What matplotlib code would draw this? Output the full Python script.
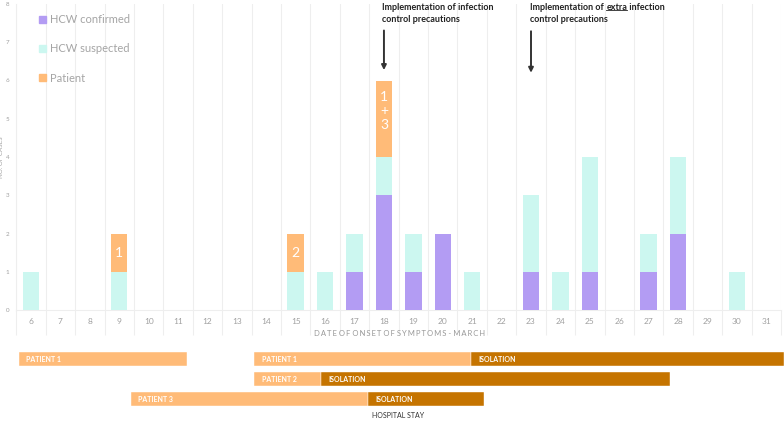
import numpy as np
import matplotlib
matplotlib.use('Agg')
import matplotlib.pyplot as plt
from matplotlib.patches import Patch

plt.rcParams['font.family'] = ['Lato', 'DejaVu Sans']

# epidemic curve data
days = list(range(6, 32))
confirmed = [0, 0, 0, 0, 0, 0, 0, 0, 0, 0, 0, 1, 3, 1, 2, 0, 0, 1, 0, 1, 0, 1, 2, 0, 0, 0]
suspected = [1, 0, 0, 1, 0, 0, 0, 0, 0, 1, 1, 1, 1, 1, 0, 1, 0, 2, 1, 3, 0, 1, 2, 0, 1, 0]
patient   = [0, 0, 0, 1, 0, 0, 0, 0, 0, 1, 0, 0, 2, 0, 0, 0, 0, 0, 0, 0, 0, 0, 0, 0, 0, 0]
patient_labels = {9: '1', 15: '2', 18: '1\n+\n3'}

# timeline of patient stays (row, start day, end day, label, kind)
stay_rows   = [0, 0, 0, 1, 1, 2, 2]
stay_start  = [5.59, 13.59, 20.97, 13.59, 15.86, 9.40, 17.46]
stay_end    = [11.31, 20.97, 31.61, 15.86, 27.73, 17.46, 21.41]
stay_labels = ['PATIENT 1', 'PATIENT 1', 'ISOLATION', 'PATIENT 2', 'ISOLATION', 'PATIENT 3', 'ISOLATION']
stay_iso    = [False, False, True, False, True, False, True]

c_conf = '#b39cf3'
c_susp = '#ccf7f0'
c_pat = '#ffbb78'
c_iso = '#c57400'
grid_c = '#eeeeee'
txt_c = '#a0a0a0'

fig = plt.figure(figsize=(7.84, 4.21), dpi=100)
W, H = 784, 421
ax = fig.add_axes([16.3 / W, 1 - 310 / H, 764.7 / W, 306 / H])

x = np.array(days)
conf = np.array(confirmed)
susp = np.array(suspected)
pat = np.array(patient)
bw = 0.56
ax.bar(x, conf, bw, color=c_conf, zorder=3)
ax.bar(x, susp, bw, bottom=conf, color=c_susp, zorder=3)
ax.bar(x, pat, bw, bottom=conf + susp, color=c_pat, zorder=3)

for d, lab in patient_labels.items():
    i = days.index(d)
    base = conf[i] + susp[i]
    ypos = base + pat[i] / 2
    if pat[i] > 1:
        ypos = base + pat[i] * 0.6
    ax.text(d, ypos, lab, ha='center', va='center', color='white',
            fontsize=10, linespacing=1.2, zorder=4)

ax.set_xlim(5.5, 31.5)
ax.set_ylim(0, 8)
ax.set_xticks(days)
ax.set_xticklabels([str(d) for d in days])
ax.set_xticks(np.arange(5.5, 32, 1), minor=True)
ax.tick_params(axis='x', which='major', length=0, labelsize=6, labelcolor=txt_c, pad=6)
ax.tick_params(axis='x', which='minor', length=18, color=grid_c, width=0.8)
ax.grid(axis='x', which='minor', color=grid_c, lw=0.8, zorder=0)
ax.set_yticks(range(0, 9))
ax.tick_params(axis='y', length=0, labelsize=4.5, labelcolor=txt_c, pad=5)
for s in ['top', 'right']:
    ax.spines[s].set_visible(False)
ax.spines['left'].set_color(grid_c)
ax.spines['bottom'].set_color(grid_c)
ax.set_ylabel('NO. OF CASES', fontsize=4.5, color=txt_c, labelpad=1)
fig.text(400 / W, 1 - 333 / H,
         ' '.join('\u2009'.join(w) for w in 'DATE OF ONSET OF SYMPTOMS - MARCH'.split(' ')),
         ha='center', va='center', fontsize=5.5, color='#999999')

handles = [Patch(color=c_conf), Patch(color=c_susp), Patch(color=c_pat)]
leg = ax.legend(handles, ['HCW confirmed', 'HCW suspected', 'Patient'],
                loc='upper left', bbox_to_anchor=(0.017, 1.0), frameon=False,
                fontsize=8, handlelength=0.6, handleheight=0.6, handletextpad=0.35,
                labelspacing=1.65)
for t in leg.get_texts():
    t.set_color('#a5a5a5')

# annotations
ann_kw = dict(fontsize=6.5, fontweight='bold', color='#222222', va='center', ha='left')
ax.annotate('', xy=(18, 6.2), xytext=(18, 7.38),
            arrowprops=dict(arrowstyle='-|>', color='#333333', lw=1.4, mutation_scale=7))
ax.annotate('', xy=(23, 6.13), xytext=(23, 7.36),
            arrowprops=dict(arrowstyle='-|>', color='#333333', lw=1.4, mutation_scale=7))
y1, y2 = (310 - 7) / 38.25, (310 - 20) / 38.25
ax.text(17.94, y1, 'Implementation of infection', clip_on=False, **ann_kw)
ax.text(17.94, y2, 'control precautions', clip_on=False, **ann_kw)
t1 = ax.text(22.98, y1, 'Implementation of ', clip_on=False, **ann_kw)
ax.text(22.98, y2, 'control precautions', clip_on=False, **ann_kw)
t2 = ax.annotate('extra', xy=(1, 0), xycoords=t1, va='bottom', ha='left',
                 fontsize=6.5, fontweight='bold', color='#222222')
t3 = ax.annotate(' infection', xy=(1, 0), xycoords=t2, va='bottom', ha='left',
                 fontsize=6.5, fontweight='bold', color='#222222')
fig.canvas.draw()
bb = t2.get_window_extent()
fig.add_artist(plt.Line2D([bb.x0 / fig.dpi / 7.84, bb.x1 / fig.dpi / 7.84],
                          [(bb.y0 + 1) / fig.dpi / 4.21] * 2, color='#222222', lw=0.6))

# patient stay timeline
gx = fig.add_axes([16.3 / W, 1 - 409 / H, 764.7 / W, 60 / H])
gx.set_xlim(5.5, 31.5)
gx.set_ylim(2.5, -0.5)
gx.axis('off')
for r, s0, s1, lab, iso in zip(stay_rows, stay_start, stay_end, stay_labels, stay_iso):
    col = c_iso if iso else c_pat
    gx.barh(r, s1 - s0, left=s0, height=0.66, color=col, clip_on=False,
            edgecolor='white', linewidth=0.3)
    gx.text(s0 + 0.25, r, lab, ha='left', va='center', color='white', fontsize=5,
            fontweight='bold')
fig.text(398 / W, 1 - 416 / H, 'HOSPITAL STAY', ha='center', va='center',
         fontsize=5, color='#333333')

fig.savefig('out.png', dpi=100)
